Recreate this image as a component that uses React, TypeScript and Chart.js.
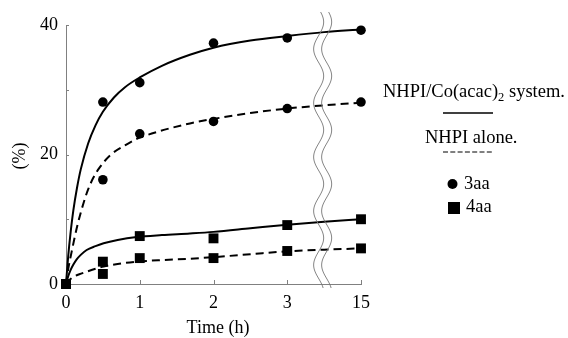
import { useEffect, useRef } from 'react';
import { Chart, registerables } from 'chart.js';

Chart.register(...registerables);

// Sampling times on the axis; position 4 stands for 15 h (after the axis break)
const timePos = [0, 0.5, 1, 2, 3, 4];
const xTickValues = [0, 1, 2, 3, 4];
const xTickLabels = ['0', '1', '2', '3', '15'];
const yTickValues = [0, 20, 40];
const yMarkValues = [0, 10, 20, 30, 40];

// Measured yields (%)
const co3aa = [0, 28.1, 31.1, 37.2, 38.0, 39.2];
const alone3aa = [0, 16.1, 23.2, 25.1, 27.1, 28.1];
const co4aa = [0, 3.45, 7.4, 7.05, 9.1, 10.0];
const alone4aa = [0, 1.55, 4.0, 4.0, 5.1, 5.5];

// Fitted curves
const fitCo3aaX = [0, 0.03, 0.06, 0.1, 0.15, 0.2, 0.3, 0.4, 0.5, 0.65, 0.8, 1, 1.3, 1.68, 2, 2.5, 3, 3.5, 4];
const fitCo3aaY = [0, 4.3, 7.7, 11.4, 14.9, 17.7, 21.7, 24.5, 26.6, 28.8, 30.4, 31.9, 33.7, 35.4, 36.5, 37.6, 38.3, 38.9, 39.3];
const fitAlone3aaX = [0, 0.03, 0.077, 0.145, 0.235, 0.3, 0.37, 0.45, 0.6, 0.8, 0.96, 1.27, 1.68, 2, 2.5, 3, 3.5, 4];
const fitAlone3aaY = [0, 2.3, 5.0, 8.6, 12.4, 14.6, 16.4, 17.9, 19.9, 21.4, 22.4, 23.6, 24.8, 25.5, 26.4, 27.1, 27.6, 28.0];
const fitCo4aaX = [0, 0.03, 0.06, 0.1, 0.145, 0.2, 0.28, 0.4, 0.51, 0.7, 0.96, 1.3, 1.68, 2, 2.5, 3, 3.5, 4];
const fitCo4aaY = [0, 1.2, 2.1, 3.0, 3.8, 4.5, 5.25, 5.85, 6.3, 6.8, 7.25, 7.55, 7.8, 8.05, 8.6, 9.15, 9.6, 10.0];
const fitAlone4aaX = [0, 0.03, 0.05, 0.1, 0.18, 0.28, 0.4, 0.51, 0.7, 0.96, 1.3, 1.68, 2, 2.5, 3, 3.5, 4];
const fitAlone4aaY = [0, 0.45, 0.65, 1.1, 1.5, 1.9, 2.35, 2.7, 3.1, 3.45, 3.7, 3.9, 4.15, 4.6, 5.05, 5.3, 5.5];

const breakAt = 3.48;
const FONT = "'Liberation Serif', 'Times New Roman', serif";
const axisColor = '#808080';

const pts = (xs: number[], ys: number[]) => xs.map((x, i) => ({ x, y: ys[i] }));

const decor = {
  id: 'decor',
  beforeDatasetsDraw(chart: any) {
    const ctx = chart.ctx;
    const xs = chart.scales.x;
    const ys = chart.scales.y;
    const y0 = ys.getPixelForValue(0);
    const x0 = xs.getPixelForValue(0);
    ctx.save();
    ctx.strokeStyle = axisColor;
    ctx.lineWidth = 1;
    for (const v of xTickValues) {
      if (v === 0) continue;
      const px = Math.round(xs.getPixelForValue(v)) + 0.5;
      ctx.beginPath();
      ctx.moveTo(px, y0);
      ctx.lineTo(px, y0 - 4);
      ctx.stroke();
    }
    for (const v of yMarkValues) {
      if (v === 0) continue;
      const py = Math.round(ys.getPixelForValue(v)) + 0.5;
      ctx.beginPath();
      ctx.moveTo(x0, py);
      ctx.lineTo(x0 + 3, py);
      ctx.stroke();
    }
    ctx.restore();
  },
  afterDatasetsDraw(chart: any) {
    const ctx = chart.ctx;
    const xs = chart.scales.x;
    const area = chart.chartArea;
    const cx = xs.getPixelForValue(breakAt);
    const top = area.top - 13;
    const bottom = area.bottom + 4;
    ctx.save();
    ctx.strokeStyle = '#777';
    ctx.lineWidth = 0.9;
    for (const off of [-4, 4]) {
      ctx.beginPath();
      for (let y = top; y <= bottom; y += 1) {
        const x = cx + off + 5 * Math.cos((2 * Math.PI * (y - (area.top - 3))) / 54);
        if (y === top) ctx.moveTo(x, y);
        else ctx.lineTo(x, y);
      }
      ctx.stroke();
    }
    ctx.restore();
  },
  afterDraw(chart: any) {
    const ctx = chart.ctx;
    ctx.save();
    ctx.fillStyle = '#000';
    ctx.strokeStyle = '#000';
    // y title
    ctx.font = `18px ${FONT}`;
    ctx.textAlign = 'center';
    ctx.textBaseline = 'middle';
    ctx.save();
    ctx.translate(20, 156);
    ctx.rotate(-Math.PI / 2);
    ctx.fillText('(%)', 0, 0);
    ctx.restore();
    // x title
    ctx.textBaseline = 'alphabetic';
    ctx.fillText('Time (h)', 218, 333);
    // legend
    ctx.font = `18.5px ${FONT}`;
    ctx.textAlign = 'left';
    let x = 383;
    const t1 = 'NHPI/Co(acac)';
    ctx.fillText(t1, x, 97);
    x += ctx.measureText(t1).width;
    ctx.font = `12.5px ${FONT}`;
    ctx.fillText('2', x, 101);
    x += ctx.measureText('2').width;
    ctx.font = `18.5px ${FONT}`;
    ctx.fillText(' system.', x, 97);
    ctx.lineWidth = 1.5;
    ctx.beginPath();
    ctx.moveTo(443, 113);
    ctx.lineTo(493, 113);
    ctx.stroke();
    ctx.fillText('NHPI alone.', 425, 143);
    ctx.lineWidth = 1;
    ctx.setLineDash([5, 2.3]);
    ctx.beginPath();
    ctx.moveTo(443, 152);
    ctx.lineTo(493, 152);
    ctx.stroke();
    ctx.setLineDash([]);
    ctx.beginPath();
    ctx.arc(452.5, 184, 5, 0, Math.PI * 2);
    ctx.fill();
    ctx.fillText('3aa', 464, 189);
    ctx.fillRect(448, 202, 12, 12);
    ctx.fillText('4aa', 466, 212);
    ctx.restore();
  },
};

export default function App() {
  const ref = useRef<HTMLCanvasElement | null>(null);
  useEffect(() => {
    if (!ref.current) return;
    const scatter = (ys: number[], style: string, r: number) => ({
      type: 'scatter' as const,
      data: pts(timePos, ys),
      showLine: false,
      pointStyle: style,
      pointRadius: r,
      pointHoverRadius: r,
      backgroundColor: '#000',
      borderColor: '#000',
      borderWidth: 0,
      clip: false,
      order: 0,
    });
    const curve = (xs: number[], ys: number[], dashed: boolean) => ({
      type: 'line' as const,
      data: pts(xs, ys),
      borderColor: '#000',
      borderWidth: 2,
      borderDash: dashed ? [8, 5] : [],
      pointRadius: 0,
      fill: false,
      cubicInterpolationMode: 'monotone' as const,
      clip: false,
      order: 1,
    });
    const chart = new Chart(ref.current, {
      type: 'line',
      data: {
        datasets: [
          scatter(co4aa, 'rect', 7),
          scatter(alone4aa, 'rect', 7),
          scatter(co3aa, 'circle', 4.8),
          scatter(alone3aa, 'circle', 4.8),
          curve(fitCo3aaX, fitCo3aaY, false),
          curve(fitAlone3aaX, fitAlone3aaY, true),
          curve(fitCo4aaX, fitCo4aaY, false),
          curve(fitAlone4aaX, fitAlone4aaY, true),
        ] as any,
      },
      options: {
        responsive: false,
        animation: false,
        events: [],
        layout: { padding: { top: 25, right: 207, bottom: 0, left: 0 } },
        plugins: { legend: { display: false }, tooltip: { enabled: false }, title: { display: false } },
        scales: {
          x: {
            type: 'linear',
            min: 0,
            max: 4,
            afterFit: (s: any) => { s.height = 54; },
            afterBuildTicks: (s: any) => { s.ticks = xTickValues.map((v) => ({ value: v })); },
            ticks: {
              callback: (v: any) => xTickLabels[xTickValues.indexOf(Number(v))] ?? '',
              font: { family: FONT, size: 18 },
              color: '#000',
              padding: 8,
              maxRotation: 0,
            },
            grid: { display: true, drawOnChartArea: false, drawTicks: false },
            border: { display: true, color: axisColor, width: 1 },
          },
          y: {
            type: 'linear',
            min: 0,
            max: 40,
            afterFit: (s: any) => { s.width = 66; },
            afterBuildTicks: (s: any) => { s.ticks = yTickValues.map((v) => ({ value: v })); },
            ticks: {
              font: { family: FONT, size: 18 },
              color: '#000',
              padding: 8,
            },
            grid: { display: true, drawOnChartArea: false, drawTicks: false },
            border: { display: true, color: axisColor, width: 1 },
          },
        },
      },
      plugins: [decor],
    });
    return () => chart.destroy();
  }, []);
  return (
    <div style={{ position: 'absolute', left: 0, top: 0, width: 568, height: 338, background: '#fff' }}>
      <canvas ref={ref} width={568} height={338} style={{ display: 'block' }} />
    </div>
  );
}
